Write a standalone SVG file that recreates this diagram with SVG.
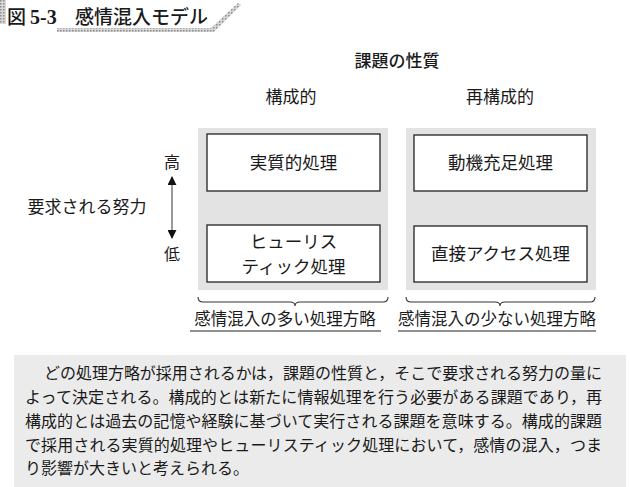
<svg xmlns="http://www.w3.org/2000/svg" width="630" height="487" viewBox="0 0 630 487">
<defs>
<style>
.t{font-family:"Noto Sans CJK JP","Noto Sans",sans-serif;fill:#1a1a1a;}
.box{fill:#ffffff;stroke:#222;stroke-width:1.3;}
.panel{fill:#e3e3e3;}
.br{fill:none;stroke:#333;stroke-width:1.1;}
</style>
<marker id="ah" viewBox="0 0 10 10" refX="9" refY="5" markerWidth="9" markerHeight="9" markerUnits="userSpaceOnUse" orient="auto-start-reverse">
<path d="M0,0 L10,5 L0,10 z" fill="#111"/>
</marker>
<pattern id="hatch" width="3" height="3" patternUnits="userSpaceOnUse">
<rect width="3" height="3" fill="#d8d8d8"/>
<rect width="1.5" height="1.5" fill="#8a8a8a"/>
</pattern>
</defs>
<rect width="630" height="487" fill="#ffffff"/>

<g id="title">
<rect x="0" y="0" width="6" height="24" fill="url(#hatch)"/>
<path d="M57,28 L211,28 L238,3 L241,5 L214,32 L57,32 z" fill="url(#hatch)"/>
<text x="7" y="24" class="t" font-size="19" font-weight="500">図</text>
<text x="30" y="24" font-family="Liberation Serif,serif" font-weight="bold" font-size="20" fill="#1a1a1a">5-3</text>
<text x="75" y="24" class="t" font-size="19" font-weight="500">感情混入モデル</text>
</g>

<g id="headers">
<text x="397" y="67" class="t" font-size="17" text-anchor="middle" font-weight="500">課題の性質</text>
<text x="291" y="103" class="t" font-size="17" text-anchor="middle">構成的</text>
<text x="500" y="103" class="t" font-size="17" text-anchor="middle">再構成的</text>
</g>

<g id="effort">
<text x="87" y="213" class="t" font-size="17" text-anchor="middle">要求される努力</text>
<text x="172" y="168" class="t" font-size="16" text-anchor="middle">高</text>
<text x="172" y="260" class="t" font-size="16" text-anchor="middle">低</text>
</g>

<g id="panels">
<rect x="198" y="128" width="190" height="162" class="panel"/>
<rect x="406" y="128" width="190" height="162" class="panel"/>
</g>

<g id="node-jisshitsu">
<rect x="207" y="134" width="173" height="57" class="box"/>
<text x="293.5" y="169" class="t" font-size="17.5" text-anchor="middle">実質的処理</text>
</g>
<g id="node-heuristic">
<rect x="207" y="225" width="173" height="57" class="box"/>
<text x="293.5" y="248" class="t" font-size="17.5" text-anchor="middle">ヒューリス</text>
<text x="293.5" y="273" class="t" font-size="17.5" text-anchor="middle">ティック処理</text>
</g>
<g id="node-douki">
<rect x="414" y="135" width="173" height="56" class="box"/>
<text x="500.5" y="169" class="t" font-size="17.5" text-anchor="middle">動機充足処理</text>
</g>
<g id="node-chokusetsu">
<rect x="414" y="226" width="173" height="56" class="box"/>
<text x="500.5" y="260" class="t" font-size="17.5" text-anchor="middle">直接アクセス処理</text>
</g>

<g id="connectors">
<line x1="172" y1="238" x2="172" y2="177" stroke="#555" stroke-width="1.2" marker-start="url(#ah)" marker-end="url(#ah)"/>
<path class="br" d="M198,297 Q198,302 203,302 L290,302 Q295,302 295,306 Q295,302 300,302 L383,302 Q388,302 388,297"/>
<path class="br" d="M406,297 Q406,302 411,302 L495,302 Q500,302 500,306 Q500,302 505,302 L590,302 Q595,302 595,297"/>
</g>

<g id="labels">
<text x="285" y="325" class="t" font-size="16.5" text-anchor="middle">感情混入の多い処理方略</text>
<line x1="190" y1="331" x2="381" y2="331" stroke="#222" stroke-width="1"/>
<text x="497" y="325" class="t" font-size="16.5" text-anchor="middle">感情混入の少ない処理方略</text>
<line x1="398" y1="331" x2="596" y2="331" stroke="#222" stroke-width="1"/>
</g>

<g id="caption">
<rect x="14" y="355" width="612" height="132" fill="#ebebeb"/>
<text x="44" y="379" class="t" font-size="16" textLength="558" lengthAdjust="spacing">どの処理方略が採用されるかは，課題の性質と，そこで要求される努力の量に</text>
<text x="25" y="403" class="t" font-size="16" textLength="577" lengthAdjust="spacing">よって決定される。構成的とは新たに情報処理を行う必要がある課題であり，再</text>
<text x="25" y="427" class="t" font-size="16" textLength="577" lengthAdjust="spacing">構成的とは過去の記憶や経験に基づいて実行される課題を意味する。構成的課題</text>
<text x="25" y="451" class="t" font-size="16" textLength="577" lengthAdjust="spacing">で採用される実質的処理やヒューリスティック処理において，感情の混入，つま</text>
<text x="25" y="474" class="t" font-size="16">り影響が大きいと考えられる。</text>
</g>
</svg>
